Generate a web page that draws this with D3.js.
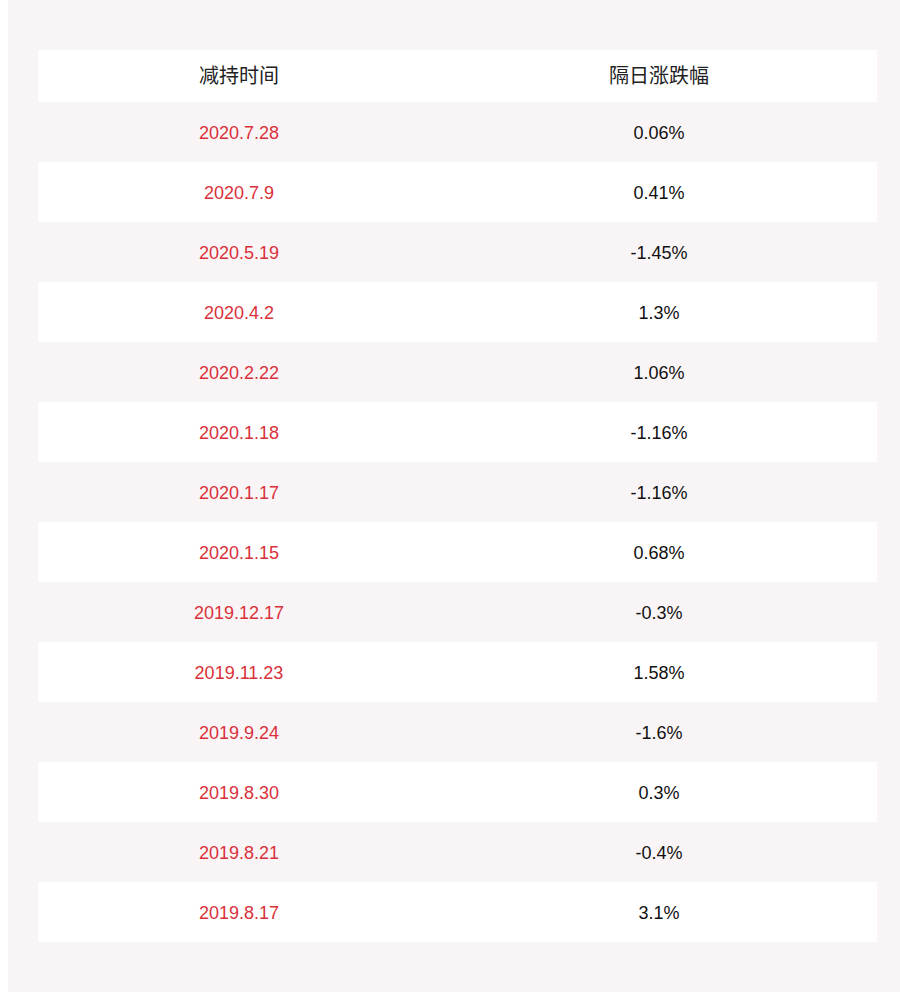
<!DOCTYPE html>
<html lang="zh">
<head>
  <meta charset="utf-8" />
  <title>减持时间</title>
  <style>
    html, body { margin: 0; padding: 0; background: #fff; }
    svg { display: block; }
  </style>
</head>
<body>
  <div id="chart"></div>
  <script src="https://cdnjs.cloudflare.com/ajax/libs/d3/7.8.5/d3.min.js"></script>
  <script>
    const headers = ['减持时间', '隔日涨跌幅']
    const dates = ['2020.7.28', '2020.7.9', '2020.5.19', '2020.4.2', '2020.2.22', '2020.1.18', '2020.1.17',
      '2020.1.15', '2019.12.17', '2019.11.23', '2019.9.24', '2019.8.30', '2019.8.21', '2019.8.17']
    const changes = ['0.06%', '0.41%', '-1.45%', '1.3%', '1.06%', '-1.16%', '-1.16%',
      '0.68%', '-0.3%', '1.58%', '-1.6%', '0.3%', '-0.4%', '3.1%']

    const width = 900, height = 992
    const svg = d3.select('#chart').append('svg').attr('width', width).attr('height', height)

    svg.append('rect').attr('x', 8).attr('y', 0).attr('width', 892).attr('height', 992).attr('fill', '#f9f5f6')

    const tLeft = 38, tRight = 877, tTop = 50, headH = 52, rowH = 60
    const y = d3.scaleBand().domain(d3.range(dates.length)).range([tTop + headH, tTop + headH + rowH * dates.length])
    const cx = [239, 659]
    const font = '"Liberation Sans", Arial, "Noto Sans CJK SC", sans-serif'

    svg.append('rect').attr('x', tLeft).attr('y', tTop).attr('width', tRight - tLeft).attr('height', headH).attr('fill', '#fff')
    svg.selectAll('.head').data(headers).join('text')
      .attr('x', (d, i) => cx[i])
      .attr('y', tTop + headH / 2 + 7)
      .attr('text-anchor', 'middle').attr('font-family', '"Noto Sans CJK SC", sans-serif')
      .attr('font-size', 20).attr('fill', '#222').text(d => d)

    const rows = svg.selectAll('.row').data(dates).join('g').attr('transform', (d, i) => `translate(0,${y(i)})`)
    rows.filter((d, i) => i % 2 === 1).append('rect')
      .attr('x', tLeft).attr('width', tRight - tLeft).attr('height', rowH).attr('fill', '#fff')
    rows.append('text').attr('x', cx[0]).attr('y', rowH / 2 + 6.5).attr('text-anchor', 'middle')
      .attr('font-family', font).attr('font-size', 18).attr('fill', '#d9303a').text(d => d)
    rows.append('text').attr('x', cx[1]).attr('y', rowH / 2 + 6.5).attr('text-anchor', 'middle')
      .attr('font-family', font).attr('font-size', 18).attr('fill', '#111').text((d, i) => changes[i])
  </script>
</body>
</html>
